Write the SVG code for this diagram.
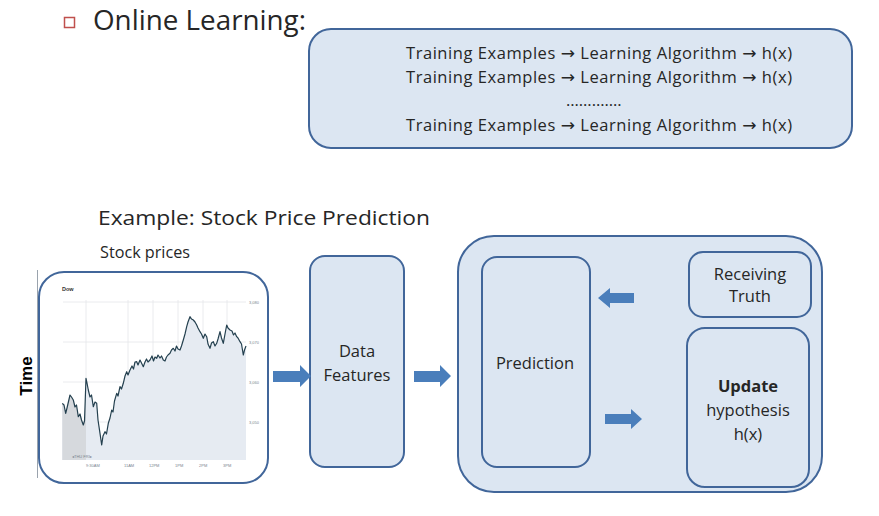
<svg xmlns="http://www.w3.org/2000/svg" width="879" height="516" viewBox="0 0 879 516">
<defs>
<style>
.box{fill:#dce6f2;stroke:#41669a;stroke-width:2}
.t{font-family:"Open Sans","Noto Sans","Liberation Sans",sans-serif;fill:#262626}
.a{font-family:"DejaVu Sans",sans-serif;font-size:17px}
.arr{fill:#4a7ebb}
.grid{stroke:#e4e6ea;stroke-width:0.8}
.ax{font-family:"Liberation Sans",sans-serif;font-size:4px;fill:#7a8590}
</style>
</defs>
<rect width="879" height="516" fill="#ffffff"/>

<g id="title">
<rect x="64.5" y="17.5" width="10" height="10" fill="none" stroke="#c0504d" stroke-width="1.5"/>
<text class="t" x="93" y="30" font-size="27" fill="#000" textLength="213" lengthAdjust="spacingAndGlyphs">Online Learning:</text>
</g>

<g id="online-box">
<rect class="box" x="309" y="29" width="543" height="119" rx="22"/>
<text class="t" font-size="16.5">
<tspan x="406" y="59" textLength="386" lengthAdjust="spacing">Training Examples <tspan class="a">→</tspan> Learning Algorithm <tspan class="a">→</tspan> h(x)</tspan>
<tspan x="406" y="83" textLength="386" lengthAdjust="spacing">Training Examples <tspan class="a">→</tspan> Learning Algorithm <tspan class="a">→</tspan> h(x)</tspan>
<tspan x="566" y="106">………….</tspan>
<tspan x="406" y="131" textLength="386" lengthAdjust="spacing">Training Examples <tspan class="a">→</tspan> Learning Algorithm <tspan class="a">→</tspan> h(x)</tspan>
</text>
</g>

<text class="t" x="98" y="225" font-size="20" textLength="332" lengthAdjust="spacingAndGlyphs">Example: Stock Price Prediction</text>

<g id="stock">
<text class="t" x="100" y="258" font-size="16" textLength="90" lengthAdjust="spacingAndGlyphs">Stock prices</text>
<line x1="37.5" y1="270" x2="37.5" y2="478" stroke="#9aa3ad" stroke-width="1"/>
<text x="32" y="376" font-family="Liberation Sans,sans-serif" font-weight="bold" font-size="17" fill="#000" text-anchor="middle" transform="rotate(-90 32 376)">Time</text>
<rect x="39" y="272" width="229" height="211" rx="25" fill="#ffffff" stroke="#41669a" stroke-width="2"/>
<text x="62" y="291" font-family="Liberation Sans,sans-serif" font-size="5.5" font-weight="bold" fill="#333">Dow</text>
<g>
<line class="grid" x1="63" y1="302" x2="246" y2="302"/>
<line class="grid" x1="63" y1="342" x2="246" y2="342"/>
<line class="grid" x1="63" y1="382" x2="246" y2="382"/>
<line class="grid" x1="63" y1="422" x2="246" y2="422"/>
<line class="grid" x1="86" y1="300" x2="86" y2="460"/>
<line class="grid" x1="128" y1="300" x2="128" y2="460"/>
<line class="grid" x1="153" y1="300" x2="153" y2="460"/>
<line class="grid" x1="178" y1="300" x2="178" y2="460"/>
<line class="grid" x1="203" y1="300" x2="203" y2="460"/>
<line class="grid" x1="227" y1="300" x2="227" y2="460"/>
</g>
<path d="M62.3,403.3 L64,405 65.7,413.3 67,408 70,395 71.5,397 73.3,400 75,407 76.5,405 78.3,416.7 80,414 81.5,420 83.3,425 84.5,421 86,378.3 87,383 88.3,390 90,397 91.5,395 93.3,406.7 95,402 96.7,403.3 98,420 100,433.3 101.7,445 103,436 105,431.7 106.5,434 108.3,423.3 110,418 111.7,410 113,412 114.5,401 116.7,393.3 118,396 120,386.7 121.5,389 123.3,383.3 125,376 126.7,371.7 128,375 130,370 132,366 133.5,369 135,362 136.7,361.7 138,365 140,360 141.5,363 143.3,366.7 145,362 146.5,359 148,362 150,360 152,356 153.5,361 155,357 156.7,358.3 158,355 160,358 161.5,356 163.3,360 165,361 166.5,357 168,355 170,353.3 171.5,350 173.3,348.3 175,351 176.5,346 178,349 180,350 181.5,346 183.3,340 185,334 186.7,326.7 188,322 190,316.7 191.5,319 193.3,320 195,322 196.7,325 198,328 200,331.7 201.5,334 203.3,338.3 205,334 206.7,336.7 208,344 210,348.3 211.5,343 213.3,341.7 215,346 216.7,343.3 218,339 220,331.7 221.5,338 223.3,343.3 225,334 226.7,325 228,328 230,330 232,331 233.5,335 235,333 236.7,336.7 238,338 240,341.7 241.5,344 243.3,355 244.5,350 246,346 L246,460 L62.3,460 Z" fill="#e6ebf2"/>
<path d="M62.3,403.3 L64,405 65.7,413.3 67,408 70,395 71.5,397 73.3,400 75,407 76.5,405 78.3,416.7 80,414 81.5,420 83.3,425 84.5,421 86,378.3 L86,460 L62.3,460 Z" fill="#d6d9dd"/>
<path d="M62.3,403.3 L64,405 65.7,413.3 67,408 70,395 71.5,397 73.3,400 75,407 76.5,405 78.3,416.7 80,414 81.5,420 83.3,425 84.5,421 86,378.3 87,383 88.3,390 90,397 91.5,395 93.3,406.7 95,402 96.7,403.3 98,420 100,433.3 101.7,445 103,436 105,431.7 106.5,434 108.3,423.3 110,418 111.7,410 113,412 114.5,401 116.7,393.3 118,396 120,386.7 121.5,389 123.3,383.3 125,376 126.7,371.7 128,375 130,370 132,366 133.5,369 135,362 136.7,361.7 138,365 140,360 141.5,363 143.3,366.7 145,362 146.5,359 148,362 150,360 152,356 153.5,361 155,357 156.7,358.3 158,355 160,358 161.5,356 163.3,360 165,361 166.5,357 168,355 170,353.3 171.5,350 173.3,348.3 175,351 176.5,346 178,349 180,350 181.5,346 183.3,340 185,334 186.7,326.7 188,322 190,316.7 191.5,319 193.3,320 195,322 196.7,325 198,328 200,331.7 201.5,334 203.3,338.3 205,334 206.7,336.7 208,344 210,348.3 211.5,343 213.3,341.7 215,346 216.7,343.3 218,339 220,331.7 221.5,338 223.3,343.3 225,334 226.7,325 228,328 230,330 232,331 233.5,335 235,333 236.7,336.7 238,338 240,341.7 241.5,344 243.3,355 244.5,350 246,346" fill="none" stroke="#24404f" stroke-width="1.2" stroke-linejoin="round"/>
<text class="ax" x="249" y="304">3,080</text>
<text class="ax" x="249" y="344">3,070</text>
<text class="ax" x="249" y="384">3,060</text>
<text class="ax" x="249" y="424">3,050</text>
<text class="ax" x="72" y="458">◂THU  FRI▸</text>
<text class="ax" x="86" y="467">9:30AM</text>
<text class="ax" x="124" y="467">11AM</text>
<text class="ax" x="149" y="467">12PM</text>
<text class="ax" x="175" y="467">1PM</text>
<text class="ax" x="199" y="467">2PM</text>
<text class="ax" x="223" y="467">3PM</text>
</g>

<g id="data-features">
<rect class="box" x="310" y="256" width="94" height="211" rx="15"/>
<text class="t" font-size="16.5" text-anchor="middle"><tspan x="357" y="357">Data</tspan><tspan x="357" y="381">Features</tspan></text>
</g>

<g id="process">
<rect class="box" x="458" y="236" width="364" height="256" rx="36"/>
</g>
<g id="prediction">
<rect class="box" x="482" y="257" width="108" height="210" rx="15"/>
<text class="t" x="535" y="369" font-size="16.5" text-anchor="middle">Prediction</text>
</g>
<g id="receiving-truth">
<rect class="box" x="689" y="252" width="122" height="65" rx="14"/>
<text class="t" font-size="16.5" text-anchor="middle"><tspan x="750" y="280">Receiving</tspan><tspan x="750" y="302">Truth</tspan></text>
</g>
<g id="update">
<rect class="box" x="687" y="328" width="122" height="159" rx="18"/>
<text class="t" font-size="16.5" text-anchor="middle"><tspan x="748" y="392" font-weight="bold">Update</tspan><tspan x="748" y="416">hypothesis</tspan><tspan x="748" y="440">h(x)</tspan></text>
</g>

<g id="connectors">
<polygon class="arr" points="273,371 300,371 300,365 311,376 300,387 300,382 273,382"/>
<polygon class="arr" points="414,371 440,371 440,365 451,376 440,387 440,382 414,382"/>
<polygon class="arr" points="634,293 610,293 610,288 598,298 610,308 610,303 634,303"/>
<polygon class="arr" points="605,414 631,414 631,409 642,419 631,429 631,424 605,424"/>
</g>
</svg>
